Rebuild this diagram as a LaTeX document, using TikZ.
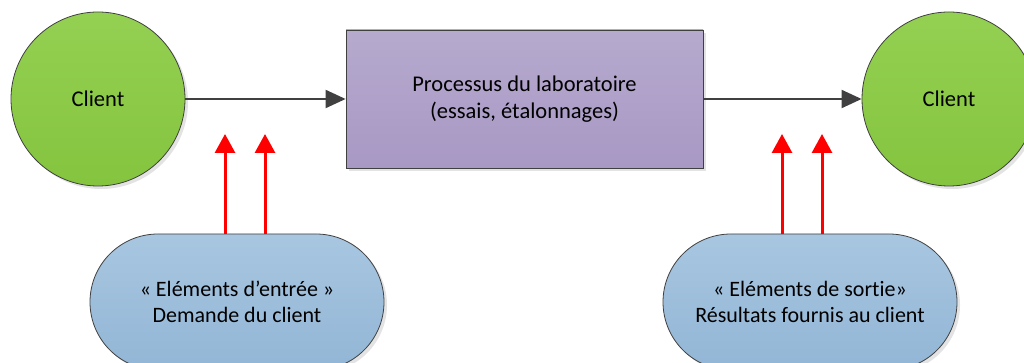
\documentclass[tikz,border=0pt]{standalone}
\usepackage{fontspec}
\setmainfont{Carlito}[Ligatures=NoCommon]
\usetikzlibrary{shapes.misc,shadows,arrows.meta}
\definecolor{edge}{RGB}{64,64,64}
\tikzset{
  shade/.style={drop shadow={shadow xshift=3pt,shadow yshift=-3pt,fill=black!18,opacity=0.6}},
  client/.style={circle,draw=edge,line width=0.8pt,minimum size=174pt,inner sep=0pt,
    top color={rgb,255:red,148;green,208;blue,82},bottom color={rgb,255:red,132;green,196;blue,62},shade,
    font=\fontsize{22.5}{26}\selectfont},
  process/.style={rectangle,draw=edge,line width=0.8pt,minimum width=357pt,minimum height=138pt,inner sep=0pt,
    top color={rgb,255:red,182;green,170;blue,206},bottom color={rgb,255:red,168;green,152;blue,196},shade,
    align=center,font=\fontsize{22.5}{27}\selectfont},
  element/.style={rounded rectangle,draw=edge,line width=0.8pt,minimum width=294pt,minimum height=136pt,inner sep=0pt,
    top color={rgb,255:red,168;green,198;blue,224},bottom color={rgb,255:red,146;green,182;blue,214},shade,
    align=center,font=\fontsize{22}{25.5}\selectfont},
  flow/.style={draw=edge,line width=2pt,-{Triangle[length=20pt,width=18pt]}},
  input/.style={draw=red,line width=3pt,-{Triangle[length=19pt,width=20pt]}}
}
\begin{document}
\begin{tikzpicture}[x=1pt,y=-1pt]
\useasboundingbox (0,0) rectangle (1024,363);
\begin{scope}
\clip (0,0) rectangle (1024,363);
\node[client] (c1) at (98,99) {Client};
\node[client] (c2) at (949,99) {Client};
\node[process] (p) at (524.5,99) {Processus du laboratoire\\(essais, étalonnages)};
\node[element] (e1) at (237,302) {« Eléments d’entrée »\\Demande du client};
\node[element] (e2) at (810,302) {« Eléments de sortie»\\Résultats fournis au client};
\end{scope}
\draw[flow] (c1.east) -- (p.west);
\draw[flow] (p.east) -- (c2.west);
\coordinate (a1) at (225,134);
\coordinate (a2) at (265,134);
\coordinate (a3) at (782,134);
\coordinate (a4) at (822,134);
\draw[input] (e1.north -| a1) -- (a1);
\draw[input] (e1.north -| a2) -- (a2);
\draw[input] (e2.north -| a3) -- (a3);
\draw[input] (e2.north -| a4) -- (a4);
\end{tikzpicture}
\end{document}
